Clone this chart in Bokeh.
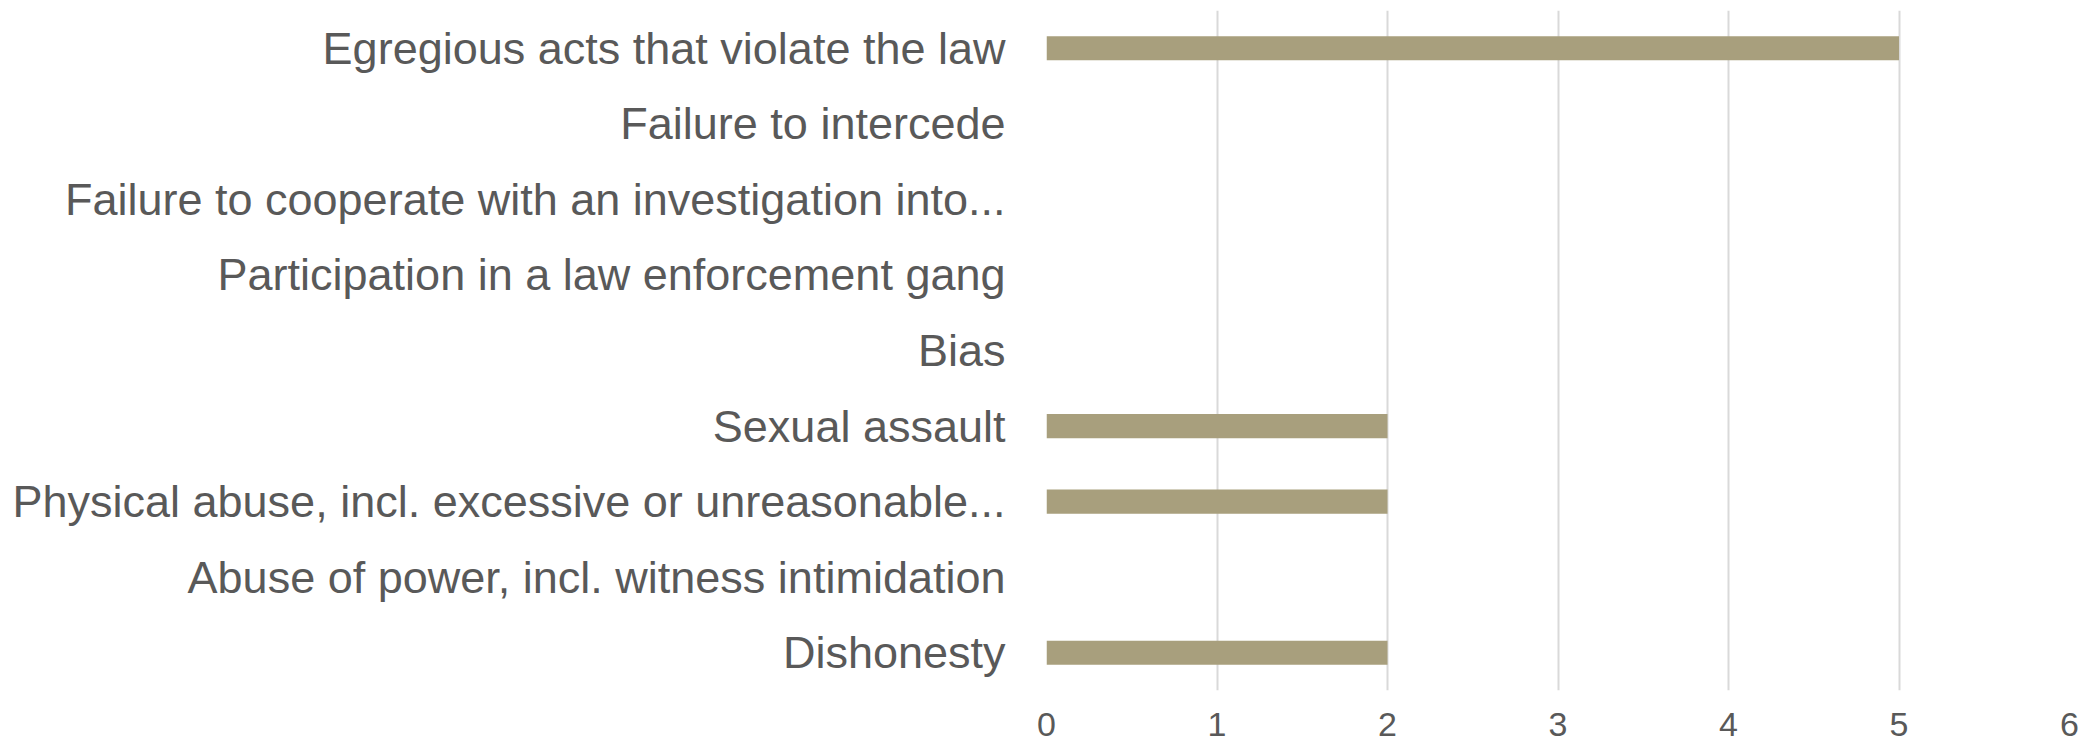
from bokeh.plotting import figure
from bokeh.models import Range1d, FactorRange, FixedTicker
from bokeh.embed import file_html
from bokeh.resources import INLINE

categories = [
    "Egregious acts that violate the law",
    "Failure to intercede",
    "Failure to cooperate with an investigation into...",
    "Participation in a law enforcement gang",
    "Bias",
    "Sexual assault",
    "Physical abuse, incl. excessive or unreasonable...",
    "Abuse of power, incl. witness intimidation",
    "Dishonesty",
]
values = [5, 0, 0, 0, 0, 2, 2, 0, 2]
x_ticks = [0, 1, 2, 3, 4, 5, 6]

factors = list(reversed(categories))

p = figure(
    width=2087, height=744,
    y_range=FactorRange(factors=factors, range_padding=0),
    x_range=Range1d(0, 6),
    output_backend="svg", toolbar_location=None,
    min_border_left=1046, min_border_right=18,
    min_border_top=10, min_border_bottom=54,
)
p.hbar(y=categories, right=values, left=0, height=0.32,
       color="#A89F7D", line_color=None)

p.outline_line_color = None
p.background_fill_color = "white"
p.border_fill_color = "white"

p.xgrid.grid_line_color = "#D9D9D9"
p.xgrid.grid_line_width = 2
p.ygrid.grid_line_color = None
p.xaxis.ticker = FixedTicker(ticks=x_ticks)

for ax in (p.xaxis[0], p.yaxis[0]):
    ax.axis_line_color = None
    ax.major_tick_line_color = None
    ax.minor_tick_line_color = None
    ax.major_tick_out = 0
    ax.major_tick_in = 0
    ax.major_label_text_color = "#595959"
    ax.major_label_text_font = "Liberation Sans"

p.yaxis.major_label_text_font_size = "45px"
p.yaxis.major_label_standoff = 41
p.xaxis.major_label_text_font_size = "34px"
p.xaxis.major_label_standoff = 22

open("out.html", "w").write(file_html(p, INLINE))
